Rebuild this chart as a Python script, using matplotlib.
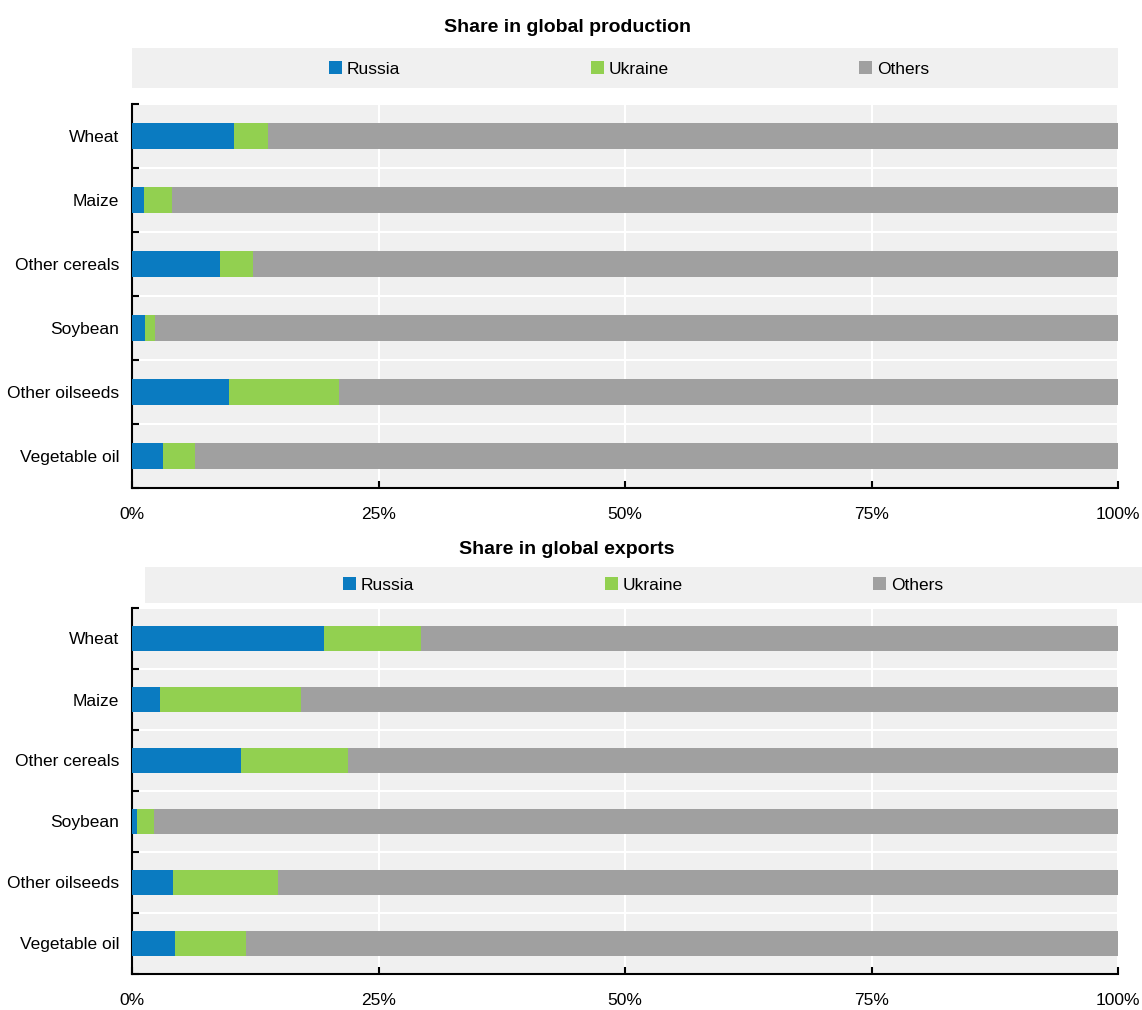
import matplotlib
matplotlib.use("Agg")
import matplotlib.pyplot as plt
from matplotlib.patches import Rectangle, Patch
from matplotlib.ticker import FixedLocator
import numpy as np

plt.rcParams['font.family'] = ['Liberation Sans', 'DejaVu Sans']

categories = ["Wheat", "Maize", "Other cereals", "Soybean", "Other oilseeds", "Vegetable oil"]

# shares in global production (%)
prod_russia = [10.3, 1.2, 8.9, 1.3, 9.8, 3.1]
prod_ukraine = [3.5, 2.9, 3.4, 1.0, 11.2, 3.3]

# shares in global exports (%)
exp_russia = [19.5, 2.8, 11.1, 0.5, 4.2, 4.4]
exp_ukraine = [9.8, 14.3, 10.8, 1.7, 10.6, 7.2]

series_names = ["Russia", "Ukraine", "Others"]
colors = ["#0a7bc1", "#92d050", "#a0a0a0"]
bg = "#f0f0f0"

W, H = 1142, 1010
fig = plt.figure(figsize=(W / 100, H / 100), dpi=100)


def fx(px):
    return px / W


def fy(py):
    return 1 - py / H


def draw_panel(ax, russia, ukraine, title, title_y, band, legend_xy):
    russia = np.array(russia)
    ukraine = np.array(ukraine)
    others = 100 - russia - ukraine
    y = np.arange(len(categories))
    ax.set_facecolor(bg)
    ax.barh(y, russia, height=0.42, color=colors[0], zorder=3)
    ax.barh(y, ukraine, left=russia, height=0.42, color=colors[1], zorder=3)
    ax.barh(y, others, left=russia + ukraine, height=0.42, color=colors[2], zorder=3)
    ax.set_xlim(0, 100)
    ax.set_ylim(len(categories) - 0.5, -0.5)
    ax.set_yticks(y)
    ax.set_yticklabels(categories, fontsize=12.5)
    ax.tick_params(axis='y', which='major', length=0, pad=9)
    ax.yaxis.set_minor_locator(FixedLocator(np.arange(-0.5, len(categories), 1)))
    ax.tick_params(axis='y', which='minor', direction='in', length=5, width=1.5)
    ax.set_xticks([0, 25, 50, 75, 100])
    ax.set_xticklabels(["0%", "25%", "50%", "75%", "100%"], fontsize=12.5)
    ax.tick_params(axis='x', direction='in', length=5, width=1.5, pad=14)
    ax.grid(axis='x', color='white', linewidth=1.5, zorder=1)
    ax.grid(axis='y', which='minor', color='white', linewidth=1.5, zorder=1)
    ax.set_axisbelow(True)
    for s in ['top', 'right']:
        ax.spines[s].set_visible(False)
    for s in ['left', 'bottom']:
        ax.spines[s].set_linewidth(1.5)
        ax.spines[s].set_color('black')

    fig.text(fx(567), fy(title_y), title, ha='center', va='center',
             fontsize=14, fontweight='bold')
    x0, y0, x1, y1 = band
    fig.patches.append(Rectangle((fx(x0), fy(y1)), fx(x1 - x0), (y1 - y0) / H,
                                 transform=fig.transFigure, facecolor=bg,
                                 edgecolor='none', zorder=0))
    handles = [Patch(facecolor=c, edgecolor='none') for c in colors]
    fig.legend(handles, series_names, loc='center',
               bbox_to_anchor=(fx(legend_xy[0]), fy(legend_xy[1])),
               ncol=3, frameon=False, fontsize=12.5, handlelength=0.75,
               handleheight=0.75, handletextpad=0.25, columnspacing=11)


ax1 = fig.add_axes([fx(132), fy(488), fx(1118 - 132), (488 - 104) / H])
draw_panel(ax1, prod_russia, prod_ukraine, "Share in global production", 28,
           (132, 48, 1118, 88), (629, 69))

ax2 = fig.add_axes([fx(132), fy(974), fx(1118 - 132), (974 - 608) / H])
draw_panel(ax2, exp_russia, exp_ukraine, "Share in global exports", 550,
           (145, 567, 1142, 603), (643, 585))

fig.savefig("out.png", dpi=100)
